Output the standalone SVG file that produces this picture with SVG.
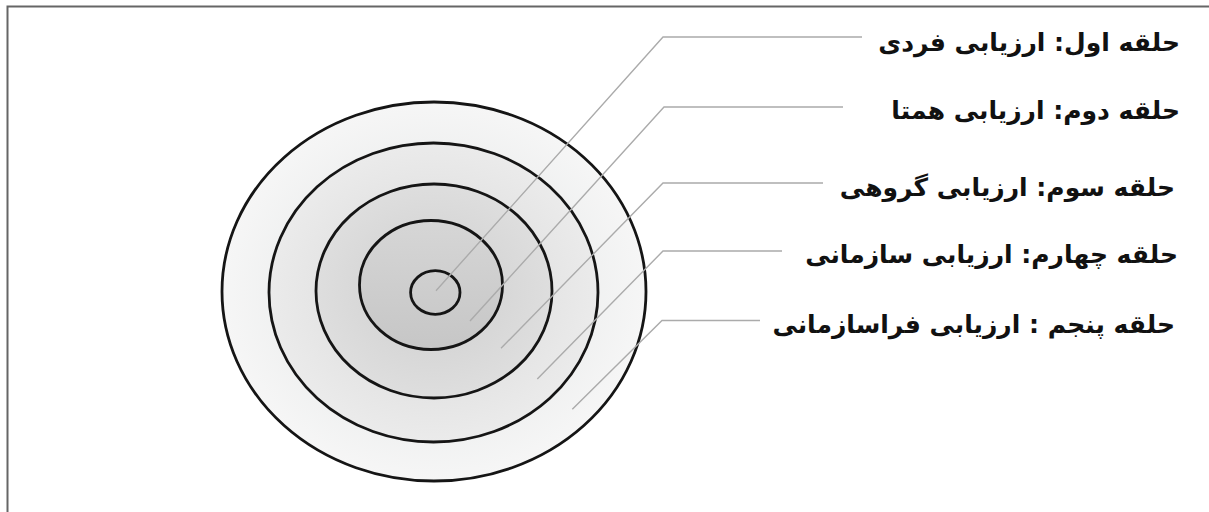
<svg xmlns="http://www.w3.org/2000/svg" width="1209" height="512" viewBox="0 0 1209 512">
<style>
.ring{stroke:#151515;stroke-width:2.8}
.lead{fill:none;stroke:#ababab;stroke-width:1.4}
.lbl{font-family:"DejaVu Sans",sans-serif;font-weight:bold;font-size:25px;fill:#111}
</style>
<defs>
<radialGradient id="g1" cx="0.5" cy="0.5" r="0.5"><stop offset="0.7" stop-color="#eff0f0"/><stop offset="1" stop-color="#f6f6f6"/></radialGradient>
<radialGradient id="g2" cx="0.5" cy="0.5" r="0.5"><stop offset="0.6" stop-color="#e3e3e3"/><stop offset="1" stop-color="#ebebeb"/></radialGradient>
<radialGradient id="g3" cx="0.5" cy="0.5" r="0.5"><stop offset="0.5" stop-color="#d6d6d6"/><stop offset="1" stop-color="#dedede"/></radialGradient>
<linearGradient id="g4" x1="0" y1="0" x2="0" y2="1"><stop offset="0" stop-color="#d6d6d6"/><stop offset="1" stop-color="#c6c6c6"/></linearGradient>
</defs>
<g id="frame" fill="none" stroke="#666" stroke-width="2">
<path d="M7.5,512 V6.5 H1209"/>
</g>
<g id="ring5"><ellipse class="ring" cx="434" cy="291.5" rx="212" ry="189.5" fill="url(#g1)"/></g>
<g id="ring4"><ellipse class="ring" cx="433.5" cy="292.5" rx="164.5" ry="149.5" fill="url(#g2)"/></g>
<g id="ring3"><ellipse class="ring" cx="434" cy="291" rx="118" ry="107" fill="url(#g3)"/></g>
<g id="ring2"><ellipse class="ring" cx="431" cy="285" rx="71.5" ry="64.5" fill="url(#g4)"/></g>
<g id="ring1"><ellipse class="ring" cx="435.3" cy="292.5" rx="24.7" ry="21.8" fill="none"/></g>
<g id="connectors">
<path class="lead" d="M436,290.7 L663,37 H862"/>
<path class="lead" d="M470,321 L664,107 H843"/>
<path class="lead" d="M501,348.3 L663,183 H823"/>
<path class="lead" d="M537.3,379 L663,251 H782"/>
<path class="lead" d="M572.3,409.3 L662,320.5 H760"/>
</g>
<g id="label1"><text class="lbl" x="1180" y="51" direction="rtl" text-anchor="start">حلقه اول: ارزیابی فردی</text></g>
<g id="label2"><text class="lbl" x="1180" y="119" direction="rtl" text-anchor="start">حلقه دوم: ارزیابی همتا</text></g>
<g id="label3"><text class="lbl" x="1175" y="196" direction="rtl" text-anchor="start">حلقه سوم: ارزیابی گروهی</text></g>
<g id="label4"><text class="lbl" x="1178" y="263" direction="rtl" text-anchor="start">حلقه چهارم: ارزیابی سازمانی</text></g>
<g id="label5"><text class="lbl" x="1175" y="333" direction="rtl" text-anchor="start">حلقه پنجم : ارزیابی فراسازمانی</text></g>
</svg>
